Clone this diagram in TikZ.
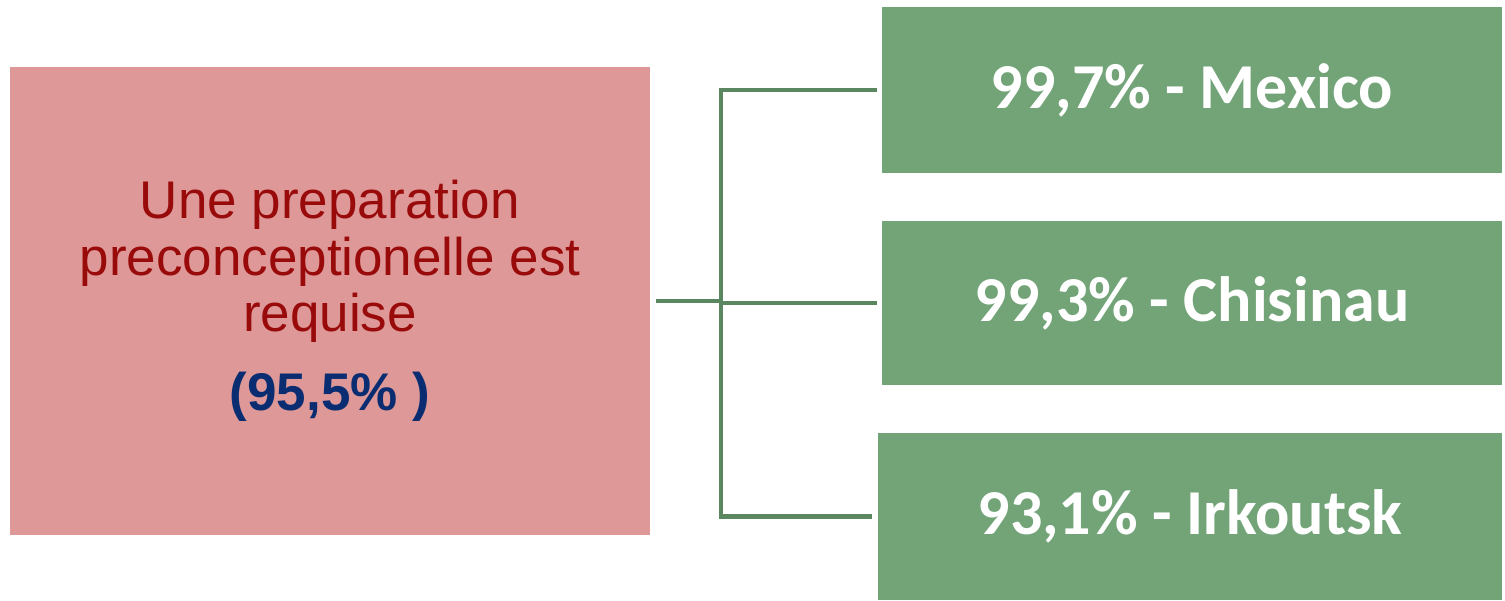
\documentclass[tikz,border=0pt]{standalone}
\usepackage{fontspec}
\setmainfont{Liberation Sans}
\newfontfamily\calib{Carlito}
\usepackage{tikz}
\usetikzlibrary{calc,positioning}
\definecolor{rosebox}{HTML}{DE9897}
\definecolor{redtxt}{HTML}{990A0A}
\definecolor{bluetxt}{HTML}{0A2D72}
\definecolor{greenbox}{HTML}{72A478}
\definecolor{greenline}{HTML}{5A8760}
\tikzset{
    x=1pt,y=-1pt,
    req/.style ={rectangle, fill=rosebox, inner sep=0pt, minimum width=640pt, minimum height=468pt,
                 align=center, text=redtxt, font=\fontsize{53}{56.5}\selectfont},
    city/.style ={rectangle, fill=greenbox, inner sep=0pt, minimum width=620pt, minimum height=165pt,
                 text=white, font=\calib\bfseries\fontsize{64}{70}\selectfont},
    link/.style={draw=greenline, line width=4.5pt}
}
\begin{document}
\begin{tikzpicture}
    \useasboundingbox (0,0) rectangle (1505,600);
    \node[req] (prep) at (330,301) {Une preparation\\preconceptionelle est\\requise\\[22pt]
        {\color{bluetxt}\bfseries (95,5\% )}};
    \node[city, minimum height=166pt] (mx) at (1192,90) {99,7\% - Mexico};
    \node[city, minimum height=164pt] (ch) at (1192,303) {99,3\% - Chisinau};
    \node[city, minimum width=624pt, minimum height=167pt] (ir) at (1190,516.5) {93,1\% - Irkoutsk};
    \coordinate (j) at (721,301);

    \path[link, shorten <=6pt] (prep.east) -- (j);
    \path[link, shorten >=5pt] (j) |- (mx.west);
    \path[link, shorten >=5pt] (j) |- (ch.west);
    \path[link, shorten >=6pt] (j) |- (ir.west);
\end{tikzpicture}
\end{document}
